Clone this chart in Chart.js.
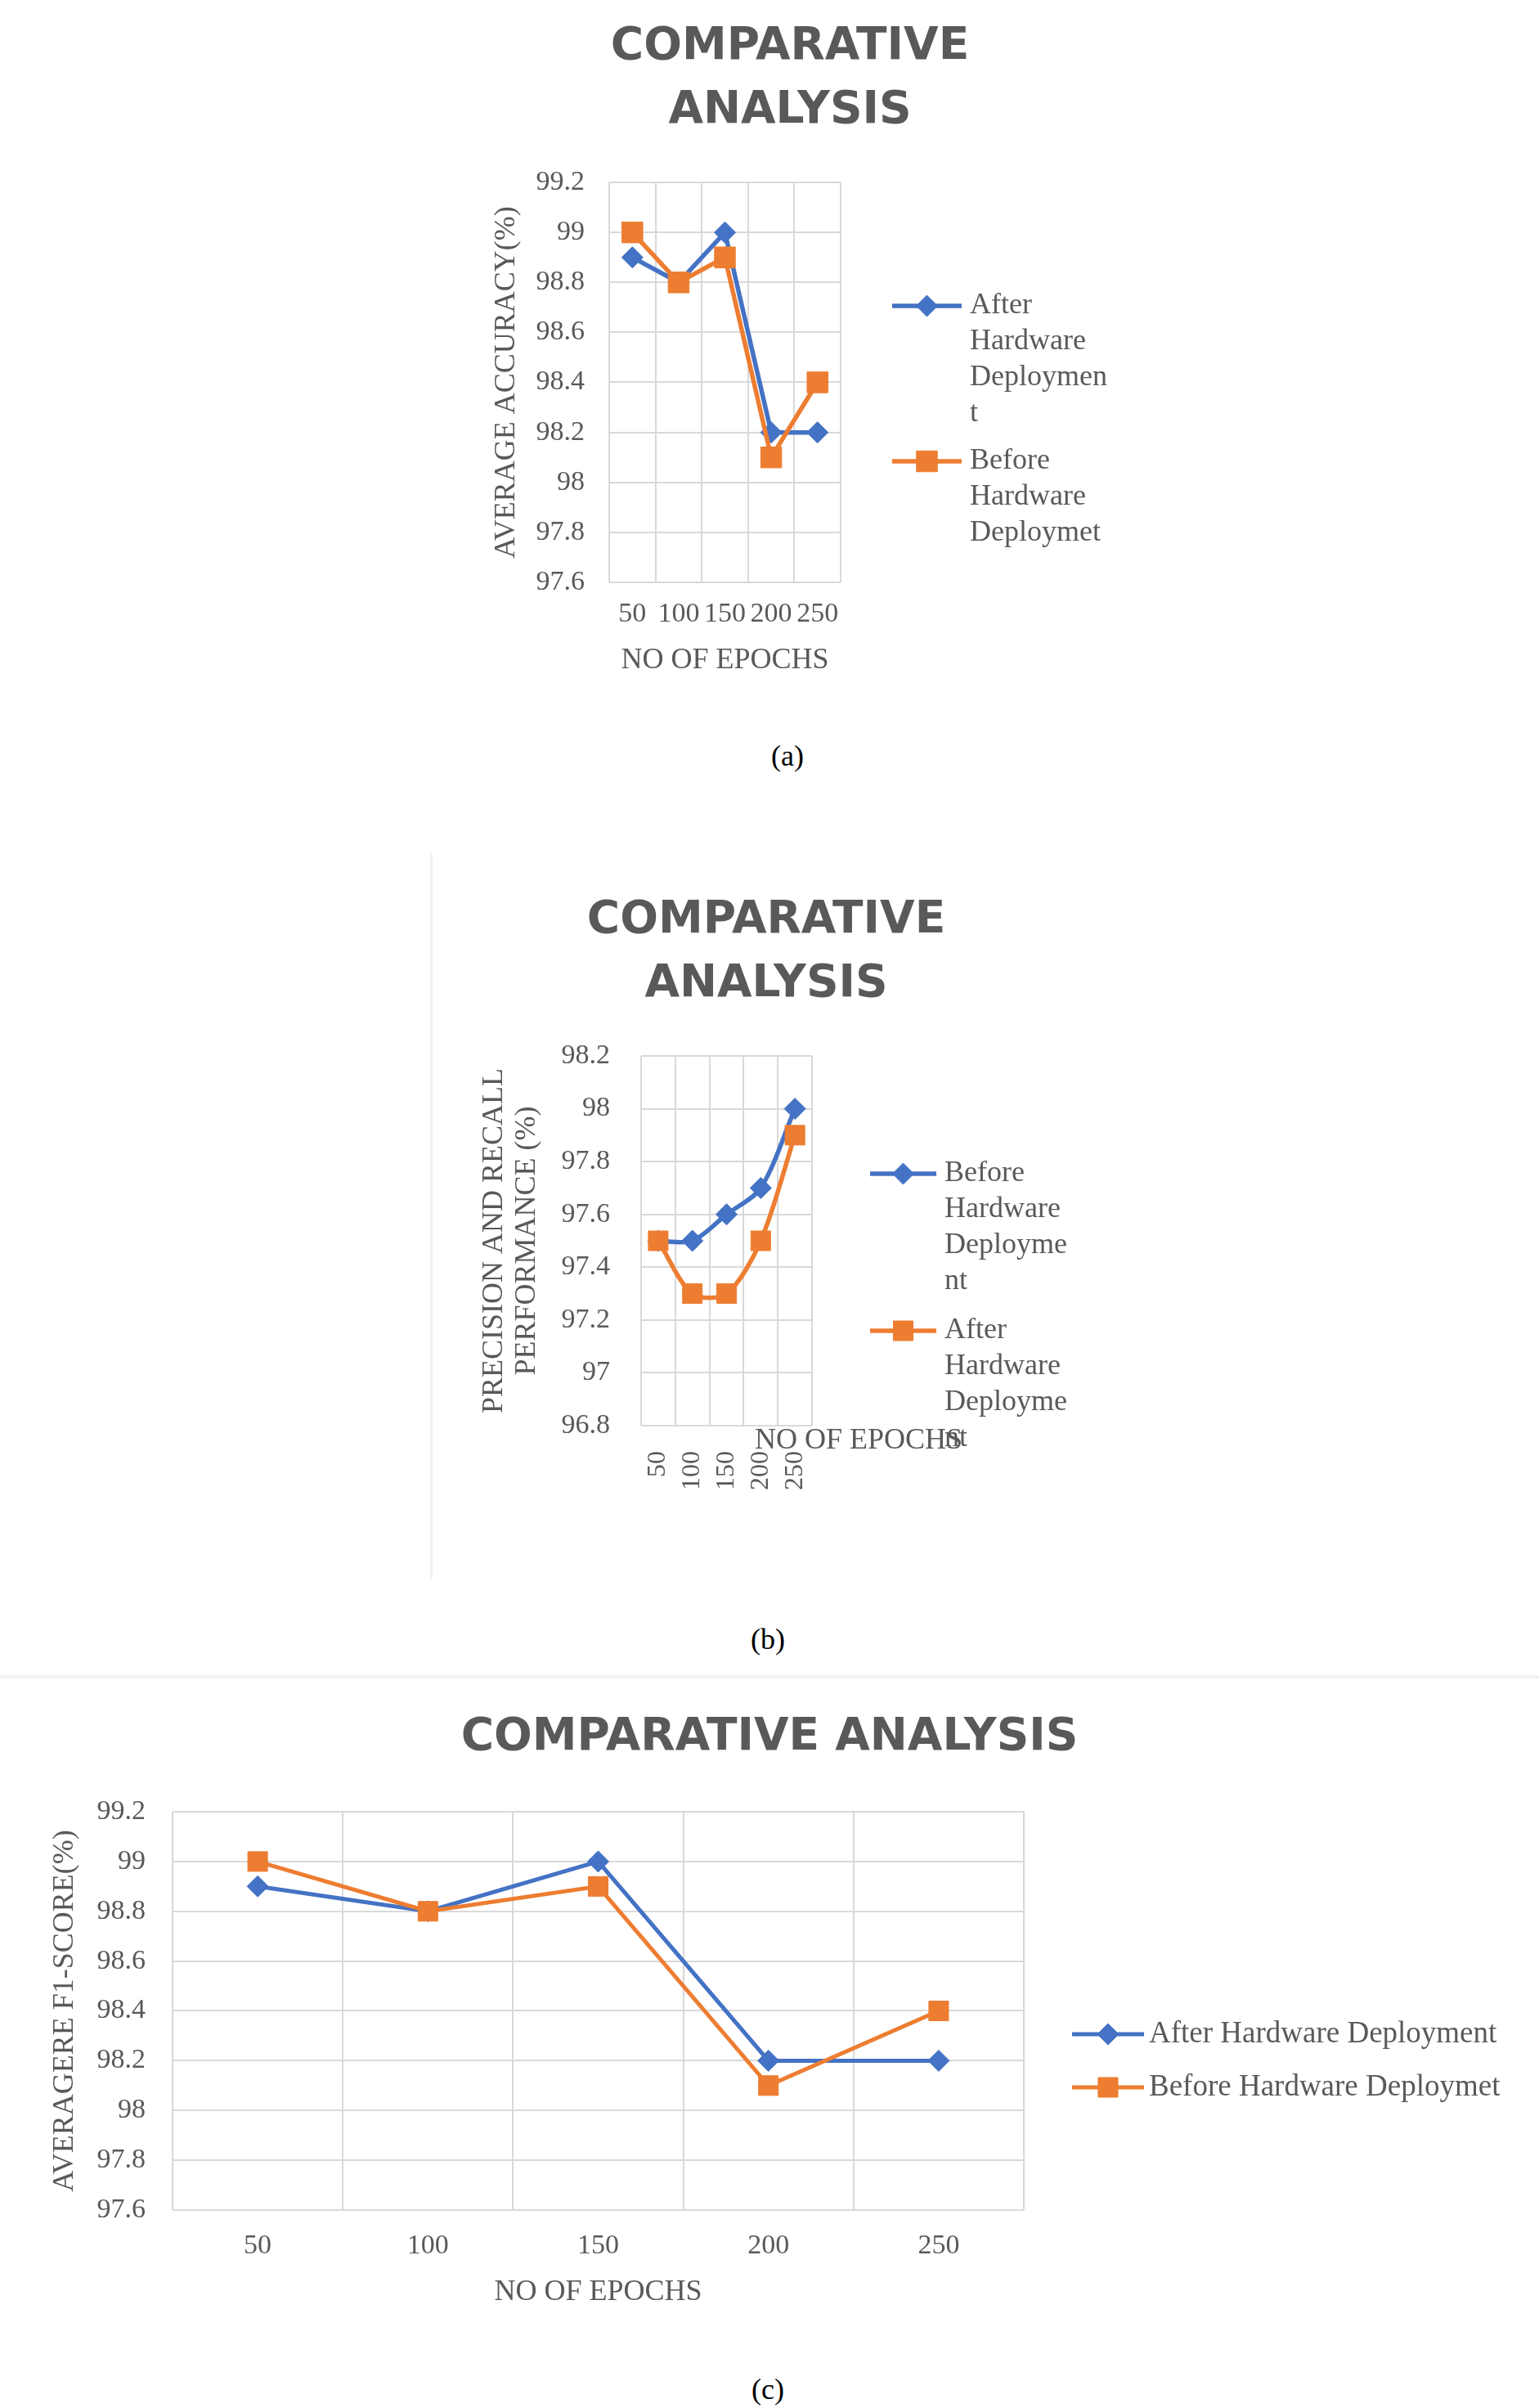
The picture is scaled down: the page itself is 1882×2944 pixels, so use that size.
<!DOCTYPE html>
<html>
<head>
<meta charset="utf-8">
<title>Comparative analysis</title>
<script src="https://cdn.jsdelivr.net/npm/chart.js@4.4.1/dist/chart.umd.min.js"></script>
<style>
  html, body { margin: 0; padding: 0; background: #fff; }
  #page { position: relative; width: 1882px; height: 2944px; overflow: hidden; }
  canvas { position: absolute; left: 0; }
  .cap { position: absolute; font-family: "Liberation Serif", serif; font-size: 36px; color: #000; transform: translate(-50%, -50%); }
  .edge { position: absolute; background: #f2f2f2; }
</style>
</head>
<body>
<div id="page">
  <canvas id="chartA" width="1882" height="860" style="top:0"></canvas>
  <div class="cap" style="left:963px;top:924px">(a)</div>
  <div class="edge" style="left:526px;top:1042px;width:3px;height:888px"></div>
  <canvas id="chartB" width="1882" height="880" style="top:1040px"></canvas>
  <div class="cap" style="left:939px;top:2004px">(b)</div>
  <div class="edge" style="left:0;top:2048px;width:1882px;height:4px"></div>
  <canvas id="chartC" width="1882" height="800" style="top:2060px"></canvas>
  <div class="cap" style="left:939px;top:2921px">(c)</div>
</div>
<script>
// data
const epochs = ["50", "100", "150", "200", "250"];

const accuracyAfter = [98.9, 98.8, 99.0, 98.2, 98.2];
const accuracyBefore = [99.0, 98.8, 98.9, 98.1, 98.4];
const accuracyTicks = [97.6, 97.8, 98.0, 98.2, 98.4, 98.6, 98.8, 99.0, 99.2];

const precisionBefore = [97.5, 97.5, 97.6, 97.7, 98.0];
const precisionAfter = [97.5, 97.3, 97.3, 97.5, 97.9];
const precisionTicks = [96.8, 97.0, 97.2, 97.4, 97.6, 97.8, 98.0, 98.2];

const f1After = [98.9, 98.8, 99.0, 98.2, 98.2];
const f1Before = [99.0, 98.8, 98.9, 98.1, 98.4];
const f1Ticks = [97.6, 97.8, 98.0, 98.2, 98.4, 98.6, 98.8, 99.0, 99.2];

// legend text, wrapped the way the original charts wrap it
const legendA = [["After", "Hardware", "Deploymen", "t"], ["Before", "Hardware", "Deploymet"]];
const legendB = [["Before", "Hardware", "Deployme", "nt"], ["After", "Hardware", "Deployme", "nt"]];
const legendC = [["After Hardware Deployment"], ["Before Hardware Deploymet"]];

const BLUE = "#4472C4";
const ORANGE = "#ED7D31";
const GRID = "#D9D9D9";
const TEXT = "#595959";
const SERIF = '"Liberation Serif", "Times New Roman", serif';

// legend that takes a fixed slot on the right and draws multi-line labels
const wrapLegend = {
  id: "wrapLegend",
  beforeInit(chart, args, opts) {
    const box = {
      position: "right",
      weight: 10,
      fullSize: false,
      options: { stackWeight: 1 },
      isHorizontal: () => false,
      update(maxWidth, maxHeight) {
        box.width = opts.width;
        box.height = maxHeight;
      },
      draw() {
        const ctx = chart.ctx;
        ctx.save();
        ctx.font = opts.fontSize + "px " + SERIF;
        ctx.textBaseline = "middle";
        ctx.textAlign = "left";
        chart.data.datasets.forEach(function (ds, i) {
          const y = opts.rows[i];
          const x0 = box.left + opts.lineX;
          ctx.strokeStyle = ds.borderColor;
          ctx.lineWidth = ds.borderWidth;
          ctx.beginPath();
          ctx.moveTo(x0, y);
          ctx.lineTo(x0 + opts.lineLength, y);
          ctx.stroke();
          ctx.fillStyle = ds.borderColor;
          ctx.lineWidth = 1;
          Chart.helpers.drawPoint(ctx, {
            pointStyle: ds.pointStyle,
            radius: ds.pointRadius,
            rotation: 0,
            borderWidth: 1,
          }, x0 + opts.lineLength / 2, y);
          ctx.fillStyle = TEXT;
          opts.lines[i].forEach(function (t, j) {
            ctx.fillText(t, box.left + opts.textX, y + j * opts.lineHeight);
          });
        });
        ctx.restore();
      },
    };
    Chart.layouts.addBox(chart, box);
  },
};

// panel (b) has its axis title sitting off to the side
const looseTitle = {
  id: "looseTitle",
  afterDraw(chart, args, opts) {
    if (!opts.text) return;
    const ctx = chart.ctx;
    ctx.save();
    ctx.font = opts.fontSize + "px " + SERIF;
    ctx.fillStyle = TEXT;
    ctx.textAlign = "center";
    ctx.textBaseline = "middle";
    ctx.fillText(opts.text, opts.x, opts.y);
    ctx.restore();
  },
};

function series(label, data, color, style, radius, width, tension, order) {
  return {
    label: label,
    data: data,
    borderColor: color,
    backgroundColor: color,
    pointBackgroundColor: color,
    pointBorderColor: color,
    pointBorderWidth: 1,
    pointStyle: style,
    pointRadius: radius,
    borderWidth: width,
    tension: tension,
    fill: false,
    order: order,
  };
}

function yAxis(ticks, title, width, titlePad, tickPad, titleLine) {
  return {
    min: ticks[0],
    max: ticks[ticks.length - 1],
    afterBuildTicks: function (s) {
      s.ticks = ticks.map(function (v) { return { value: v }; });
    },
    afterFit: function (s) { s.width = width; },
    grid: { color: GRID, lineWidth: 2, drawTicks: false },
    border: { display: false },
    ticks: {
      padding: tickPad,
      color: TEXT,
      font: { family: SERIF, size: 34 },
      callback: function (v) { return String(Math.round(v * 10) / 10); },
    },
    title: {
      display: true,
      text: title,
      color: TEXT,
      font: { family: SERIF, size: 36, lineHeight: titleLine },
      padding: { top: titlePad, bottom: 0 },
    },
  };
}

function xAxis(height, tickPad, rotation, tickSize, title, titlePad) {
  return {
    offset: true,
    afterFit: function (s) { s.height = height; },
    grid: { color: GRID, lineWidth: 2, offset: true, drawTicks: false },
    border: { display: false },
    ticks: {
      padding: tickPad,
      color: TEXT,
      font: { family: SERIF, size: tickSize, lineHeight: 1.2 },
      autoSkip: false,
      minRotation: rotation,
      maxRotation: rotation,
    },
    title: {
      display: !!title,
      text: title || "",
      color: TEXT,
      font: { family: SERIF, size: 36, lineHeight: 1.2 },
      padding: { top: 0, bottom: titlePad },
    },
  };
}

function titleBlock(text, top, bottom) {
  return {
    display: true,
    text: text,
    color: TEXT,
    font: { family: '"DejaVu Sans", sans-serif', size: 55, weight: "bold", lineHeight: "78px" },
    padding: { top: top, bottom: bottom },
  };
}

document.addEventListener("DOMContentLoaded", function () {
  new Chart(document.getElementById("chartA").getContext("2d"), {
    type: "line",
    data: {
      labels: epochs,
      datasets: [
        series("After Hardware Deployment", accuracyAfter, BLUE, "rectRot", 13, 5.5, 0, 1),
        series("Before Hardware Deploymet", accuracyBefore, ORANGE, "rect", 18, 5.5, 0, 0),
      ],
    },
    options: {
      responsive: false,
      animation: false,
      devicePixelRatio: 1,
      events: [],
      layout: { padding: { left: 550, right: 500, top: 0, bottom: 28 } },
      scales: {
        x: xAxis(120, 19, 0, 34, "NO OF EPOCHS", 3),
        y: yAxis(accuracyTicks, "AVERAGE ACCURACY(%)", 195, 48, 30, 1.2),
      },
      plugins: {
        legend: { display: false },
        tooltip: { enabled: false },
        title: titleBlock(["COMPARATIVE", "ANALYSIS"], 19, 48),
        wrapLegend: { width: 354, lineX: 63, lineLength: 85, textX: 158, rows: [374, 564], lineHeight: 44, fontSize: 36, lines: legendA },
      },
    },
    plugins: [wrapLegend],
  });

  new Chart(document.getElementById("chartB").getContext("2d"), {
    type: "line",
    data: {
      labels: epochs,
      datasets: [
        series("Before Hardware Deployment", precisionBefore, BLUE, "rectRot", 13, 5.5, 0.3, 1),
        series("After Hardware Deployment", precisionAfter, ORANGE, "rect", 17, 5.5, 0.3, 0),
      ],
    },
    options: {
      responsive: false,
      animation: false,
      devicePixelRatio: 1,
      events: [],
      layout: { padding: { left: 540, right: 548, top: 0, bottom: 27 } },
      scales: {
        x: xAxis(150, 31, 90, 32, "", 0),
        y: yAxis(precisionTicks, ["PRECISION AND RECALL", "PERFORMANCE (%)"], 244, 45, 38, "40px"),
      },
      plugins: {
        legend: { display: false },
        tooltip: { enabled: false },
        title: titleBlock(["COMPARATIVE", "ANALYSIS"], 47, 48),
        wrapLegend: { width: 341, lineX: 71, lineLength: 81, textX: 162, rows: [395, 587], lineHeight: 44, fontSize: 36, lines: legendB },
        looseTitle: { text: "NO OF EPOCHS", x: 1050, y: 722, fontSize: 36 },
      },
    },
    plugins: [wrapLegend, looseTitle],
  });

  new Chart(document.getElementById("chartC").getContext("2d"), {
    type: "line",
    data: {
      labels: epochs,
      datasets: [
        series("After Hardware Deployment", f1After, BLUE, "rectRot", 13, 5, 0, 1),
        series("Before Hardware Deploymet", f1Before, ORANGE, "rect", 17, 5, 0, 0),
      ],
    },
    options: {
      responsive: false,
      animation: false,
      devicePixelRatio: 1,
      events: [],
      layout: { padding: { left: 40, right: 40, top: 0, bottom: 28 } },
      scales: {
        x: xAxis(130, 24, 0, 34, "NO OF EPOCHS", 8),
        y: yAxis(f1Ticks, "AVERAGERE F1-SCORE(%)", 171, 18, 33, 1.2),
      },
      plugins: {
        legend: { display: false },
        tooltip: { enabled: false },
        title: titleBlock("COMPARATIVE ANALYSIS", 26, 51),
        wrapLegend: { width: 590, lineX: 59, lineLength: 88, textX: 153, rows: [427, 492], lineHeight: 44, fontSize: 37, lines: legendC },
      },
    },
    plugins: [wrapLegend],
  });
});
</script>
</body>
</html>
